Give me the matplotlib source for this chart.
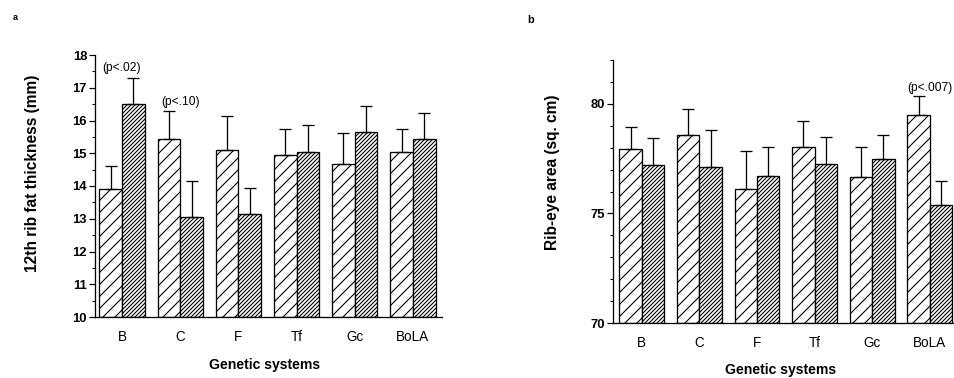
import numpy as np
import matplotlib
matplotlib.use('Agg')
from matplotlib import pyplot as plt
from matplotlib.ticker import MultipleLocator

plt.rcParams['font.family'] = ['Liberation Sans', 'DejaVu Sans']
plt.rcParams['hatch.linewidth'] = 1.1

systems = ['B', 'C', 'F', 'Tf', 'Gc', 'BoLA']

# panel a: 12th rib fat thickness (mm)
fat_open = [13.9, 15.45, 15.1, 14.95, 14.67, 15.04]
fat_open_err = [0.7, 0.85, 1.05, 0.8, 0.95, 0.7]
fat_dark = [16.5, 13.05, 13.15, 15.05, 15.65, 15.43]
fat_dark_err = [0.8, 1.1, 0.8, 0.8, 0.8, 0.8]

# panel b: rib-eye area (sq. cm)
rib_open = [77.95, 78.6, 76.1, 78.05, 76.65, 79.5]
rib_open_err = [1.0, 1.15, 1.75, 1.15, 1.4, 0.85]
rib_dark = [77.23, 77.1, 76.7, 77.27, 77.5, 75.4]
rib_dark_err = [1.2, 1.7, 1.35, 1.2, 1.1, 1.1]

fig = plt.figure(figsize=(954 / 72, 378 / 72), dpi=72)
axa = fig.add_axes([95 / 954, 1 - 317 / 378, 347 / 954, 262 / 378])
axb = fig.add_axes([613 / 954, 1 - 323 / 378, 341 / 954, 263 / 378])

x = np.arange(len(systems))
w = 0.39


def draw(ax, open_v, open_e, dark_v, dark_e, base):
    ax.bar(x - w / 2, np.array(open_v) - base, w, bottom=base, color='white',
           edgecolor='black', linewidth=1.3, hatch='//')
    ax.bar(x + w / 2, np.array(dark_v) - base, w, bottom=base, color='white',
           edgecolor='black', linewidth=1.3, hatch='//////')
    ax.errorbar(x - w / 2, open_v, yerr=[np.zeros(6), open_e], fmt='none',
                ecolor='black', elinewidth=1.3, capsize=6, capthick=1.3)
    ax.errorbar(x + w / 2, dark_v, yerr=[np.zeros(6), dark_e], fmt='none',
                ecolor='black', elinewidth=1.3, capsize=6, capthick=1.3)
    for s in ['top', 'right']:
        ax.spines[s].set_visible(False)
    ax.spines['left'].set_linewidth(1.3)
    ax.spines['bottom'].set_linewidth(1.3)
    ax.set_xticks(x)
    ax.set_xticklabels(systems, fontsize=13.5)
    ax.tick_params(axis='x', length=0, pad=13)
    ax.tick_params(axis='y', which='major', length=6, width=1.2, labelsize=13, pad=2)
    ax.tick_params(axis='y', which='minor', length=3, width=1.0)
    ax.set_xlabel('Genetic systems', fontsize=14, fontweight='bold')


draw(axa, fat_open, fat_open_err, fat_dark, fat_dark_err, 10)
axa.set_xlim(-0.465, 5.5)
axa.set_ylim(10, 18)
axa.yaxis.set_major_locator(MultipleLocator(1))
axa.yaxis.set_minor_locator(MultipleLocator(0.5))
for t in axa.get_yticklabels():
    t.set_fontweight('bold')
axa.set_ylabel('12th rib fat thickness (mm)', fontsize=15.5, fontweight='bold', va='center')
axa.yaxis.set_label_coords(-0.179, (173 - 317) / -262)
axa.xaxis.set_label_coords(0.49, -0.183)
axa.xaxis.label.set_va('center')
axa.text(0.0, 17.42, '(p<.02)', ha='center', va='bottom', fontsize=12)
axa.text(1.0, 16.38, '(p<.10)', ha='center', va='bottom', fontsize=12)

draw(axb, rib_open, rib_open_err, rib_dark, rib_dark_err, 70)
axb.set_xlim(-0.5, 5.42)
axb.set_ylim(70, 82)
axb.yaxis.set_major_locator(MultipleLocator(5))
axb.yaxis.set_minor_locator(MultipleLocator(1))
for t in axb.get_yticklabels():
    t.set_fontweight('bold')
axb.set_ylabel('Rib-eye area (sq. cm)', fontsize=15.5, fontweight='bold', va='center')
axb.yaxis.set_label_coords(-0.176, (172 - 323) / -263)
axb.xaxis.set_label_coords(0.49, -0.179)
axb.xaxis.label.set_va('center')
axb.text(5.0, 80.45, '(p<.007)', ha='center', va='bottom', fontsize=12)

fig.text(13 / 954, 1 - 18 / 378, 'a', fontsize=9, fontweight='bold', ha='left', va='center')
fig.text(527 / 954, 1 - 20 / 378, 'b', fontsize=11, fontweight='bold', ha='left', va='center')

fig.savefig('out.png', dpi=72)
